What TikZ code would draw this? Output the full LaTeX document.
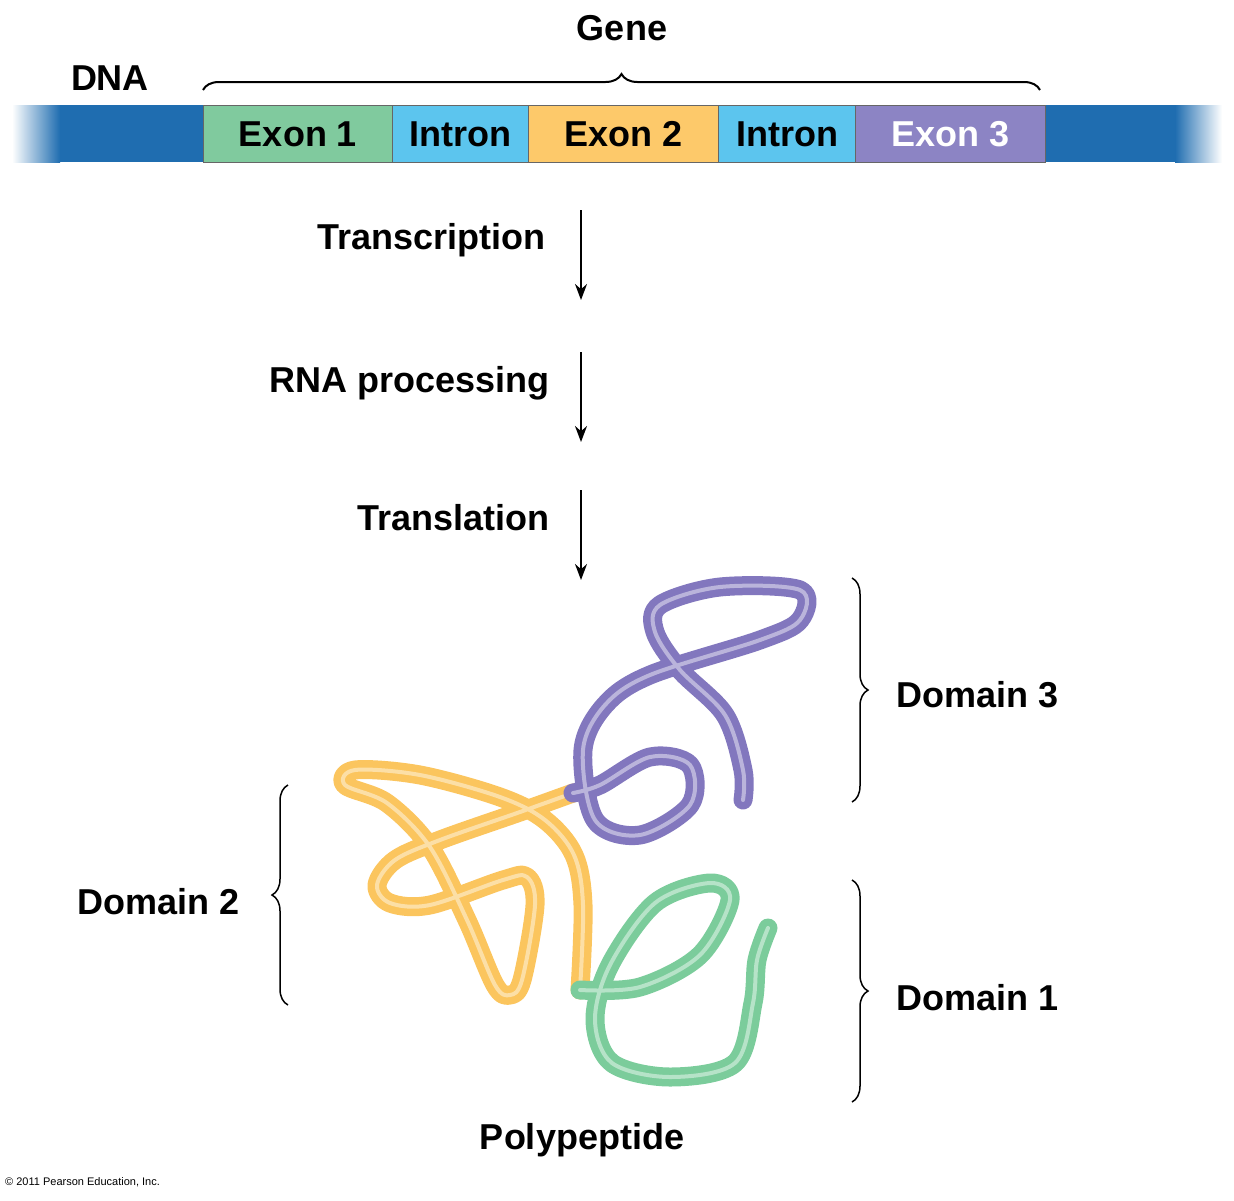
\documentclass[tikz,border=0pt]{standalone}
\usepackage{fontspec}
\setmainfont{Liberation Sans}
\usetikzlibrary{decorations.pathreplacing,arrows.meta}
\definecolor{dnab}{HTML}{1F6DB0}
\definecolor{exg}{HTML}{80CA9E}
\definecolor{inb}{HTML}{5CC5EE}
\definecolor{exy}{HTML}{FDC96A}
\definecolor{exp}{HTML}{8C84C4}
\definecolor{tg}{HTML}{7BCC9B}
\definecolor{ty}{HTML}{FBC55E}
\definecolor{tp}{HTML}{8277BE}
\begin{document}
\begin{tikzpicture}[x=1pt,y=-1pt,
  lbl/.style={font=\fontsize{36}{40}\selectfont\bfseries,inner sep=0pt},
  seg/.style={draw=black!60,line width=1pt},
  arr/.style={-{Stealth[length=16pt,width=12pt]},line width=2pt},
  br/.style={decorate,decoration={brace,amplitude=16pt},line width=1.5pt},
  tube/.style={line width=19pt,line cap=round,line join=round},
  hl/.style={line width=4pt,white,opacity=.45,line cap=round}]
\useasboundingbox (0,0) rectangle (1234,1200);
% DNA
\fill[dnab] (60,105) rectangle (1175,162);
\shade[left color=white,right color=dnab] (12,105) rectangle (60,162);
\shade[left color=dnab,right color=white] (1175,105) rectangle (1222,162);
\node[seg,fill=exg,minimum width=189pt,minimum height=57pt,anchor=north west,lbl] (e1) at (203,105) {Exon 1};
\node[seg,fill=inb,minimum width=136pt,minimum height=57pt,anchor=north west,lbl] (i1) at (392,105) {Intron};
\node[seg,fill=exy,minimum width=190pt,minimum height=57pt,anchor=north west,lbl] (e2) at (528,105) {Exon 2};
\node[seg,fill=inb,minimum width=137pt,minimum height=57pt,anchor=north west,lbl] (i2) at (718,105) {Intron};
\node[seg,fill=exp,minimum width=190pt,minimum height=57pt,anchor=north west,lbl,text=white] (e3) at (855,105) {Exon 3};
\node[lbl] (dna) at (110,78) {DNA};
\coordinate (g1) at (203,90); \coordinate (g2) at (1040,90);
\draw[br,line width=2pt] (g1) -- (g2);
\node[lbl] (gene) at (622,28) {Gene};
% arrows
\coordinate (a1) at (581,210); \coordinate (a1e) at (581,300);
\coordinate (a2) at (581,352); \coordinate (a2e) at (581,442);
\coordinate (a3) at (581,490); \coordinate (a3e) at (581,580);
\draw[arr] (a1) -- (a1e); \draw[arr] (a2) -- (a2e); \draw[arr] (a3) -- (a3e);
\node[lbl,anchor=east] (t1) at (546,240) {Transcription};
\node[lbl,anchor=east] (t2) at (550,383) {RNA processing};
\node[lbl,anchor=east] (t3) at (550,518) {Translation};
% polypeptide
\def\ypath{plot[smooth,tension=0.55] coordinates {(573,793) (520,812) (440,840) (395,860) (377,885) (390,903) (430,905) (503,880) (527,877) (535,905) (522,980) (510,995) (495,985) (467,920) (430,847) (387,803) (345,785) (355,770) (420,775) (500,797) (545,820) (574,855) (583,905) (580,990)}}
\def\ppath{plot[smooth,tension=0.55] coordinates {(743,800) (743,770) (725,715) (680,670) (655,632) (660,605) (720,587) (800,590) (800,620) (760,640) (650,675) (605,705) (583,750) (595,820) (640,835) (690,805) (690,765) (650,757) (600,785) (573,793)}}
\def\gpath{plot[smooth,tension=0.55] coordinates {(580,990) (640,987) (700,955) (730,900) (710,883) (655,903) (610,965) (595,1020) (612,1063) (670,1077) (735,1063) (753,1003) (757,960) (768,928)}}
\draw[tube,ty] \ypath;
\draw[hl] \ypath;
\draw[tube,tp] \ppath;
\draw[hl] \ppath;
\draw[tube,tg] \gpath;
\draw[hl] \gpath;
% braces
\coordinate (d3a) at (852,578); \coordinate (d3b) at (852,802);
\coordinate (d1a) at (852,880); \coordinate (d1b) at (852,1102);
\coordinate (d2a) at (288,1005); \coordinate (d2b) at (288,785);
\draw[br] (d3a) -- (d3b);
\draw[br] (d1a) -- (d1b);
\draw[br] (d2a) -- (d2b);
\node[lbl,anchor=west] (l3) at (896,695) {Domain 3};
\node[lbl,anchor=west] (l1) at (896,998) {Domain 1};
\node[lbl,anchor=east] (l2) at (240,902) {Domain 2};
\node[lbl] (pp) at (582,1140) {Polypeptide};
\node[anchor=west,inner sep=0pt,font=\fontsize{11}{12}\selectfont] (cr) at (5,1182) {© 2011 Pearson Education, Inc.};
\end{tikzpicture}
\end{document}
